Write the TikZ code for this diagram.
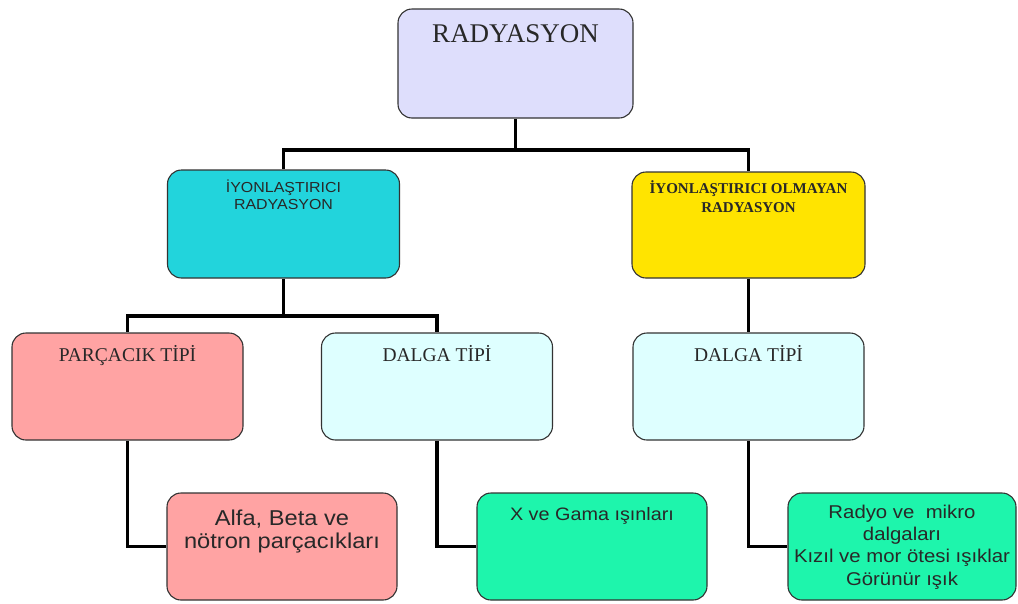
\documentclass[tikz,border=0pt]{standalone}
\usepackage{fontspec}
\setmainfont{Liberation Serif}
\setsansfont{Liberation Sans}
\newfontfamily\widesans[FakeStretch=1.1]{Liberation Sans}
\definecolor{cTop}{RGB}{222,222,252}
\definecolor{cIon}{RGB}{34,212,220}
\definecolor{cNon}{RGB}{255,228,0}
\definecolor{cPar}{RGB}{255,163,163}
\definecolor{cWav}{RGB}{222,255,255}
\definecolor{cGrn}{RGB}{30,245,172}
\definecolor{cTxt}{RGB}{40,40,40}
\begin{document}
\begin{tikzpicture}[x=1pt,y=-1pt,
  box/.style={draw=black!80, line width=1.1pt, rounded corners=14pt, inner sep=0pt,
    minimum width=231pt, minimum height=107pt},
  conn/.style={line width=3.6pt, black},
  txt/.style={text=cTxt, inner sep=0pt, align=center},
  serifT/.style={txt, font=\fontsize{19.5}{22}\selectfont}]
\useasboundingbox (0,0) rectangle (1018,603);
% boxes
\node[box, fill=cTop, minimum width=235pt, minimum height=109pt] (top) at (515.5,63.5) {};
\node[box, fill=cIon, minimum width=232pt, minimum height=108pt] (ion) at (283.5,224) {};
\node[box, fill=cNon, minimum width=233pt, minimum height=106pt] (non) at (748.5,225) {};
\node[box, fill=cPar] (par) at (127.5,386.5) {};
\node[box, fill=cWav] (wav1) at (437,386.5) {};
\node[box, fill=cWav] (wav2) at (748.5,386.5) {};
\node[box, fill=cPar, minimum width=230pt] (alfa) at (282,546.5) {};
\node[box, fill=cGrn, minimum width=230pt] (xg) at (592,546.5) {};
\node[box, fill=cGrn, minimum width=228pt] (rad) at (902,546.5) {};
% texts
\node[txt, anchor=base, font=\fontsize{27}{30}\selectfont] (topT) at (515.5,42) {RADYASYON};
\node[txt, anchor=north, font=\widesans\fontsize{14.5}{17.5}\selectfont] (ionT) at (283.5,179.7) {İYONLAŞTIRICI\\RADYASYON};
\node[txt, anchor=north, font=\bfseries\fontsize{15}{19}\selectfont] (nonT) at (748.5,180) {İYONLAŞTIRICI OLMAYAN\\RADYASYON};
\node[serifT, anchor=base] (parT) at (127.5,361) {PARÇACIK TİPİ};
\node[serifT, anchor=base] (wav1T) at (437,361) {DALGA TİPİ};
\node[serifT, anchor=base] (wav2T) at (748.5,361) {DALGA TİPİ};
\node[txt, anchor=north, font=\widesans\fontsize{21.5}{23}\selectfont] (alfaT) at (282,509.3) {Alfa, Beta ve\\nötron parçacıkları};
\node[txt, anchor=base, font=\widesans\fontsize{18}{22}\selectfont] (xgT) at (592,520) {X ve Gama ışınları};
\node[txt, anchor=north, font=\widesans\fontsize{18.5}{22.3}\selectfont] (radT) at (902,504.5) {Radyo ve\ \ mikro\\dalgaları\\Kızıl ve mor ötesi ışıklar\\Görünür ışık};
% connectors
\coordinate (j1) at (515.5,150);
\coordinate (j2) at (283.5,316);
\draw[conn] (top.south) -- (j1) -| (ion.north);
\draw[conn] (j1) -| (non.north);
\draw[conn] (ion.south) -- (j2) -| (par.north);
\draw[conn] (j2) -| (wav1.north);
\draw[conn] (non.south) -- (wav2.north);
\draw[conn] (par.south) |- (alfa.west);
\draw[conn] (wav1.south) |- (xg.west);
\draw[conn] (wav2.south) |- (rad.west);
\end{tikzpicture}
\end{document}
